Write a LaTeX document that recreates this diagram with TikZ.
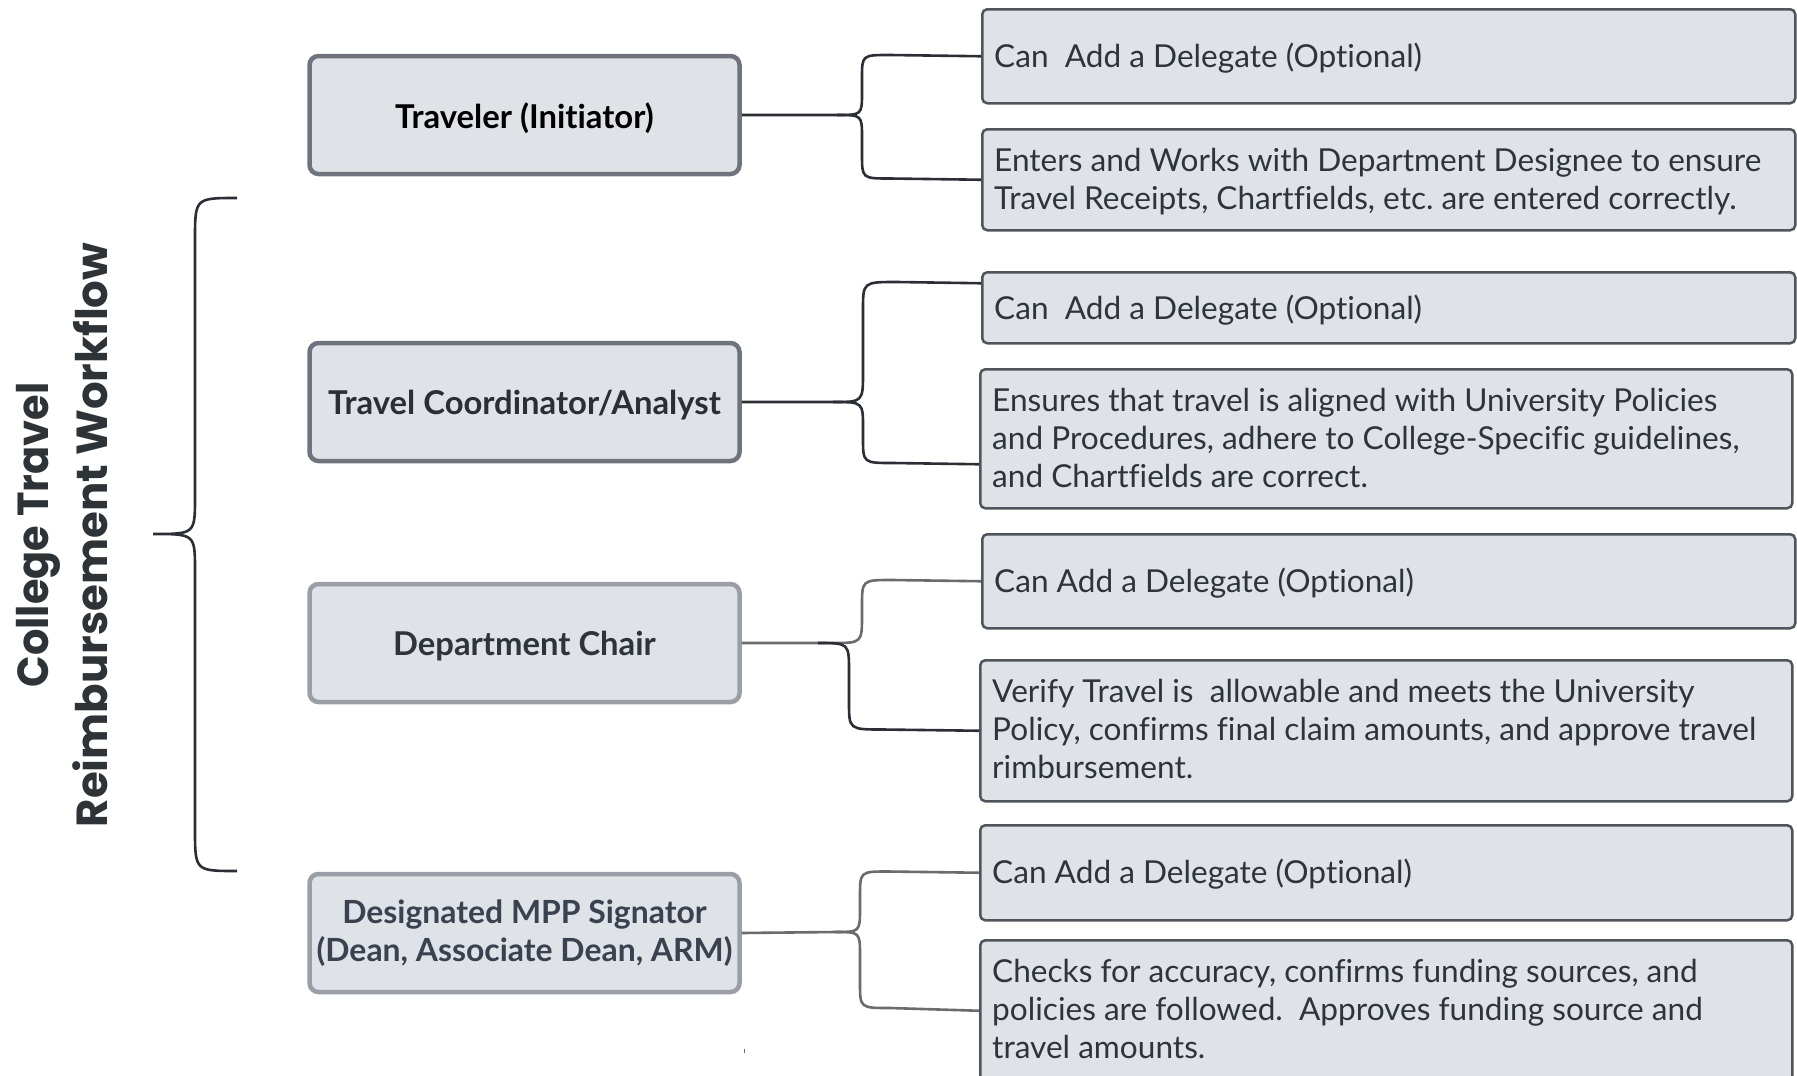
\documentclass[tikz,border=0pt]{standalone}
\usepackage{fontspec}
\setmainfont{Lato}[Ligatures=CommonOff]
\newfontfamily\titlefont{Poppins}
\frenchspacing
\definecolor{boxfill}{HTML}{DFE2E7}
\definecolor{roleDark}{HTML}{6E737D}
\definecolor{roleLight}{HTML}{9A9FA7}
\definecolor{infoBorder}{HTML}{50555D}
\definecolor{infoText}{HTML}{2E343B}
\definecolor{connDark}{HTML}{2B2F35}
\definecolor{connGray}{HTML}{6B6B6B}
\definecolor{titleColor}{HTML}{2E3338}
\newcommand{\lowered}[2]{\raisebox{-#1}[\height][\depth]{#2}}
\begin{document}
\begin{tikzpicture}[x=1pt,y=-1pt,
  rolebox/.style={draw=roleDark, line width=4.5pt, fill=boxfill, rounded corners=9pt,
    minimum width=430pt, minimum height=118pt, inner sep=0pt, align=center,
    font=\fontsize{32.8}{38}\selectfont\bfseries},
  rolelight/.style={rolebox, draw=roleLight},
  infobox/.style={draw=infoBorder, line width=2.5pt, fill=boxfill, rounded corners=5pt,
    inner sep=0pt, anchor=north west},
  infotext/.style={anchor=west, align=left, inner sep=0pt, text=infoText,
    font=\fontsize{31.6}{38}\selectfont},
  conn/.style={line width=2.6pt, draw=connDark},
  conng/.style={line width=2.6pt, draw=connGray},
  titletext/.style={align=center, inner sep=0pt, text=titleColor,
    font=\titlefont\bfseries\fontsize{43.5}{59}\selectfont}
]
\useasboundingbox (0,0) rectangle (1797,1076);
\fill[white] (0,0) rectangle (1797,1076);

% title and brace
\node[titletext, rotate=90] (title) at (62,535) {\scalebox{0.953}[1]{College Travel}\\Reimbursement Workflow};
\coordinate (bTop) at (237,198);
\coordinate (bTip) at (153,534);
\coordinate (bBot) at (237,871);
\draw[conn] (bTop) .. controls (195,198) .. (195,240) -- (195,497)
  .. controls (195,534) .. (bTip) .. controls (195,534) .. (195,571)
  -- (195,829) .. controls (195,871) .. (bBot);

% role boxes
\node[rolebox, text=black] (trav) at (524.5,115) {\lowered{3.5pt}{Traveler (Initiator)}};
\node[rolebox, text=connDark] (coord) at (524.5,402) {\lowered{3pt}{Travel Coordinator/Analyst}};
\node[rolelight, text=infoText] (chair) at (524.5,643) {\lowered{3pt}{Department Chair}};
\node[rolelight, text={rgb,255:red,58;green,66;blue,80}, font=\fontsize{31.9}{38}\selectfont\bfseries] (mpp) at (524.5,933) {\lowered{2pt}{\begin{tabular}{@{}c@{}}Designated MPP Signator\\(Dean, Associate Dean, ARM)\end{tabular}}};

% info boxes
\node[infobox, minimum width=813pt, minimum height=94pt] (r1a) at (981,8) {};
\node[infobox, minimum width=813pt, minimum height=101pt] (r1b) at (981,128) {};
\node[infobox, minimum width=813pt, minimum height=71pt] (r2a) at (981,271) {};
\node[infobox, minimum width=812pt, minimum height=139pt] (r2b) at (979,368) {};
\node[infobox, minimum width=813pt, minimum height=94pt] (r3a) at (981,533) {};
\node[infobox, minimum width=812pt, minimum height=141pt] (r3b) at (979,659) {};
\node[infobox, minimum width=812pt, minimum height=95pt] (r4a) at (979,824) {};
\node[infobox, minimum width=812pt, minimum height=141pt] (r4b) at (979,939) {};

\node[infotext] (t1a) at ([xshift=13pt,yshift=-2pt]r1a.west) {Can\ \ Add a Delegate (Optional)};
\node[infotext] (t1b) at ([xshift=13pt,yshift=-2pt]r1b.west) {Enters and Works with Department Designee to ensure\\Travel Receipts, Chartfields, etc. are entered correctly.};
\node[infotext] (t2a) at ([xshift=13pt,yshift=-2pt]r2a.west) {Can\ \ Add a Delegate (Optional)};
\node[infotext] (t2b) at ([xshift=13pt,yshift=0.5pt]r2b.west) {Ensures that travel is aligned with University Policies\\and Procedures, adhere to College-Specific guidelines,\\and Chartfields are correct.};
\node[infotext] (t3a) at ([xshift=13pt,yshift=-2pt]r3a.west) {Can Add a Delegate (Optional)};
\node[infotext] (t3b) at ([xshift=13pt,yshift=1.5pt]r3b.west) {Verify Travel is\ \ allowable and meets the University\\Policy, confirms final claim amounts, and approve travel\\rimbursement.};
\node[infotext] (t4a) at ([xshift=13pt,yshift=-1pt]r4a.west) {Can Add a Delegate (Optional)};
\node[infotext] (t4b) at ([xshift=13pt,yshift=2pt]r4b.west) {Checks for accuracy, confirms funding sources, and\\policies are followed.\ \ Approves funding source and\\travel amounts.};

% connectors: Traveler
\draw[conn] (trav.east) -- (837,115) .. controls (862,115) .. (862,92) -- (862,78)
  .. controls (862,55) .. (890,55) -- (r1a.west);
\draw[conn] (837,115) .. controls (862,115) .. (862,138) -- (862,154)
  .. controls (862,178.5) .. (890,178.5) -- (r1b.west);
% Coordinator
\draw[conn] (coord.east) -- (833,402) .. controls (863,402) .. (863,372) -- (863,310)
  .. controls (863,282) .. (897,282) -- ([yshift=24.5pt]r2a.west);
\draw[conn] (833,402) .. controls (863,402) .. (863,428) -- (863,438)
  .. controls (863,463) .. (893,463) -- ([yshift=-25.5pt]r2b.west);
% Department Chair
\draw[conng] (chair.east) -- (832,643) .. controls (862,643) .. (862,615) -- (862,606)
  .. controls (862,580) .. (892,580) -- (r3a.west);
\draw[conn] (818,643) .. controls (849,643) .. (849,672) -- (849,702)
  .. controls (849,729.5) .. (883,729.5) -- (r3b.west);
% MPP Signator
\draw[conng] (mpp.east) -- (835,932) .. controls (860,932) .. (860,908) -- (860,897)
  .. controls (860,871.5) .. (888,871.5) -- (r4a.west);
\draw[conng] (835,932) .. controls (860,932) .. (860,956) -- (860,983)
  .. controls (860,1008) .. (890,1008) -- (r4b.west);

% small speck
\fill[connGray] (743.5,1049) rectangle (745,1053);
\end{tikzpicture}
\end{document}
